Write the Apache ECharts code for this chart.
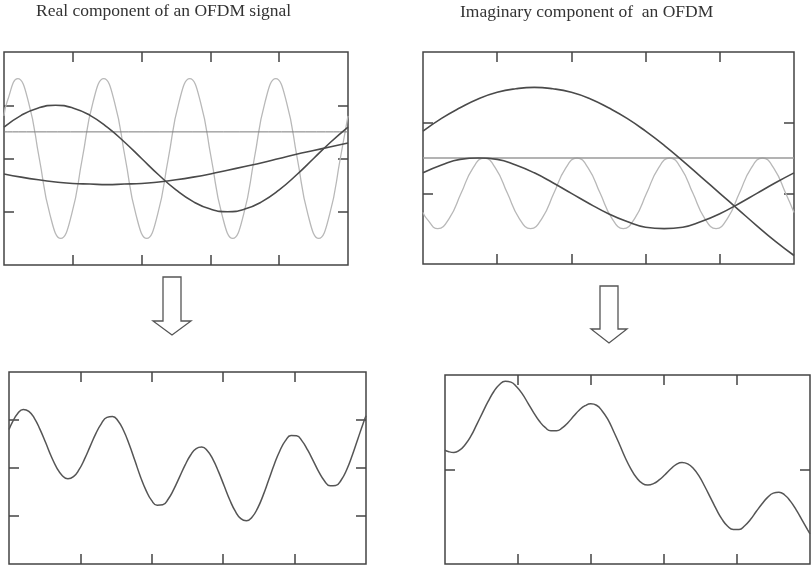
<!DOCTYPE html>
<html>
<head>
<meta charset="utf-8">
<script src="https://cdn.jsdelivr.net/npm/echarts@6/dist/echarts.min.js"></script>
<style>
  html, body { margin: 0; padding: 0; background: #fff; }
  #chart { width: 811px; height: 566px; }
</style>
</head>
<body>
<div id="chart"></div>
<script>
// ---- data ----
const titles = ['Real component of an OFDM signal', 'Imaginary component of  an OFDM'];

// sample positions along the time axis (0..5 = five tick intervals)
const slowU = [0, 0.25, 0.5, 0.75, 1, 1.25, 1.5, 1.75, 2, 2.25, 2.5, 2.75, 3, 3.25, 3.5, 3.75, 4, 4.25, 4.5, 4.75, 5];
const fastU = [0, 0.044, 0.2, 0.356, 0.513, 0.669, 0.825, 0.981, 1.138, 1.294, 1.45, 1.606, 1.763, 1.919, 2.075, 2.231, 2.388, 2.544, 2.7, 2.856, 3.013, 3.169, 3.325, 3.481, 3.638, 3.794, 3.95, 4.106, 4.263, 4.419, 4.575, 4.731, 4.888, 5];
const sumU = [0, 0.044, 0.122, 0.2, 0.278, 0.356, 0.434, 0.513, 0.591, 0.669, 0.747, 0.825, 0.903, 0.981, 1.059, 1.138, 1.216, 1.294, 1.372, 1.45, 1.528, 1.606, 1.684, 1.763, 1.841, 1.919, 1.997, 2.075, 2.153, 2.231, 2.309, 2.388, 2.466, 2.544, 2.622, 2.7, 2.778, 2.856, 2.934, 3.013, 3.091, 3.169, 3.247, 3.325, 3.403, 3.481, 3.559, 3.638, 3.716, 3.794, 3.872, 3.95, 4.028, 4.106, 4.184, 4.263, 4.341, 4.419, 4.497, 4.575, 4.653, 4.731, 4.809, 4.888, 4.966, 5];
const dcU = [0, 5];

// real component (top left)
const realFast = [0.80, 1.06, 1.5, 1.06, 0, -1.06, -1.5, -1.06, 0, 1.06, 1.5, 1.06, 0, -1.06, -1.5, -1.06, 0, 1.06, 1.5, 1.06, 0, -1.06, -1.5, -1.06, 0, 1.06, 1.5, 1.06, 0, -1.06, -1.5, -1.06, 0, 0.80];
const realMid = [0.59, 0.81, 0.95, 1.00, 0.95, 0.81, 0.59, 0.31, 0.00, -0.31, -0.59, -0.81, -0.95, -1.00, -0.95, -0.81, -0.59, -0.31, 0.00, 0.31, 0.59];
const realSlow = [-0.29, -0.35, -0.40, -0.44, -0.47, -0.48, -0.49, -0.48, -0.47, -0.44, -0.40, -0.35, -0.29, -0.22, -0.15, -0.08, 0.00, 0.08, 0.15, 0.22, 0.29];
const realDC = [0.5, 0.5];

// imaginary component (top right)
const imagFast = [-0.27, -0.35, -0.5, -0.35, 0, 0.35, 0.5, 0.35, 0, -0.35, -0.5, -0.35, 0, 0.35, 0.5, 0.35, 0, -0.35, -0.5, -0.35, 0, 0.35, 0.5, 0.35, 0, -0.35, -0.5, -0.35, 0, 0.35, 0.5, 0.35, 0, -0.27];
const imagBig = [0.88, 1.06, 1.21, 1.34, 1.43, 1.48, 1.50, 1.48, 1.43, 1.34, 1.21, 1.06, 0.88, 0.68, 0.46, 0.23, 0.00, -0.23, -0.46, -0.68, -0.88];
const imagMid = [0.29, 0.40, 0.48, 0.50, 0.48, 0.40, 0.29, 0.15, 0.00, -0.15, -0.29, -0.40, -0.48, -0.50, -0.48, -0.40, -0.29, -0.15, 0.00, 0.15, 0.29];
const imagDC = [0.5, 0.5];

// resulting signals (bottom)
const realSum = [1.60, 1.89, 2.27, 2.44, 2.36, 2.07, 1.61, 1.06, 0.49, 0.01, -0.32, -0.45, -0.36, -0.07, 0.38, 0.91, 1.43, 1.85, 2.11, 2.15, 1.96, 1.55, 0.98, 0.31, -0.36, -0.93, -1.35, -1.55, -1.53, -1.29, -0.88, -0.38, 0.12, 0.54, 0.81, 0.87, 0.72, 0.36, -0.15, -0.74, -1.32, -1.80, -2.11, -2.20, -2.05, -1.68, -1.14, -0.49, 0.16, 0.72, 1.14, 1.35, 1.34, 1.12, 0.74, 0.29, -0.17, -0.54, -0.74, -0.73, -0.50, -0.06, 0.54, 1.23, 1.91, 2.18];
const imagSum = [1.41, 1.38, 1.36, 1.41, 1.53, 1.71, 1.95, 2.20, 2.44, 2.65, 2.80, 2.87, 2.85, 2.75, 2.60, 2.40, 2.20, 2.02, 1.89, 1.82, 1.82, 1.88, 1.99, 2.13, 2.26, 2.35, 2.39, 2.36, 2.24, 2.06, 1.81, 1.54, 1.26, 1.02, 0.83, 0.71, 0.67, 0.70, 0.78, 0.89, 1.01, 1.11, 1.15, 1.12, 1.02, 0.86, 0.64, 0.40, 0.16, -0.05, -0.20, -0.27, -0.27, -0.19, -0.06, 0.11, 0.27, 0.41, 0.50, 0.52, 0.46, 0.33, 0.15, -0.06, -0.27, -0.36];

// tick values
const xTicks = [1, 2, 3, 4];
const yTicksTL = [-1, 0, 1];
const yTicksTR = [0, 1];
const yTicksBL = [-2, 0, 2];
const yTicksBR = [1];

// ---- chart ----
const frame = '#444';
const grids = [
  { left: 4, top: 52, width: 344, height: 213 },
  { left: 423, top: 52, width: 371, height: 212 },
  { left: 9, top: 372, width: 357, height: 192 },
  { left: 445, top: 375, width: 365, height: 189 }
].map(g => Object.assign(g, { show: true, borderColor: frame, borderWidth: 1.5, backgroundColor: 'transparent' }));

const yRanges = [[-2, 2], [-1, 2], [-4, 4], [-1, 3]];
const yTicks = [yTicksTL, yTicksTR, yTicksBL, yTicksBR];

function tickStyle(vals) {
  return { show: true, inside: true, length: 10, customValues: vals, lineStyle: { color: frame, width: 1.5 } };
}
const xAxes = [], yAxes = [];
for (let g = 0; g < 4; g++) {
  ['bottom', 'top'].forEach(pos => xAxes.push({
    type: 'value', gridIndex: g, position: pos, min: 0, max: 5,
    axisLine: { show: false, onZero: false }, axisTick: tickStyle(xTicks),
    axisLabel: { show: false }, splitLine: { show: false }
  }));
  ['left', 'right'].forEach(pos => yAxes.push({
    type: 'value', gridIndex: g, position: pos, min: yRanges[g][0], max: yRanges[g][1],
    axisLine: { show: false, onZero: false }, axisTick: tickStyle(yTicks[g]),
    axisLabel: { show: false }, splitLine: { show: false }
  }));
}

function pairs(us, vs) { return us.map((u, i) => [u, vs[i]]); }
function line(g, us, vs, color, width) {
  return {
    type: 'line', xAxisIndex: g * 2, yAxisIndex: g * 2, data: pairs(us, vs),
    smooth: true, showSymbol: false, silent: true,
    lineStyle: { color: color, width: width }
  };
}

const light = '#b8b8b8', dark = '#4a4a4a';
const series = [
  line(0, fastU, realFast, light, 1.3),
  line(0, dcU, realDC, '#7a7a7a', 1),
  line(0, slowU, realMid, dark, 1.6),
  line(0, slowU, realSlow, dark, 1.6),
  line(1, fastU, imagFast, light, 1.3),
  line(1, dcU, imagDC, '#9a9a9a', 1.5),
  line(1, slowU, imagBig, dark, 1.6),
  line(1, slowU, imagMid, dark, 1.6),
  line(2, sumU, realSum, '#555', 1.5),
  line(3, sumU, imagSum, '#555', 1.5)
];

function arrow(pts) {
  return { type: 'polygon', shape: { points: pts }, style: { fill: '#fff', stroke: '#555', lineWidth: 1.3 } };
}

const chart = echarts.init(document.getElementById('chart'), null, { renderer: 'canvas' });
chart.setOption({
  animation: false,
  backgroundColor: '#fff',
  grid: grids,
  xAxis: xAxes,
  yAxis: yAxes,
  series: series,
  graphic: [
    { type: 'text', left: 36, top: 2, style: { text: titles[0], font: '17.5px "Liberation Serif", serif', fill: '#333' } },
    { type: 'text', left: 460, top: 3, style: { text: titles[1], font: '17.5px "Liberation Serif", serif', fill: '#333' } },
    arrow([[163, 277], [181, 277], [181, 321], [191, 321], [172, 335], [153, 321], [163, 321]]),
    arrow([[600, 286], [618, 286], [618, 329], [627, 329], [609, 343], [591, 329], [600, 329]])
  ]
});
</script>
</body>
</html>
